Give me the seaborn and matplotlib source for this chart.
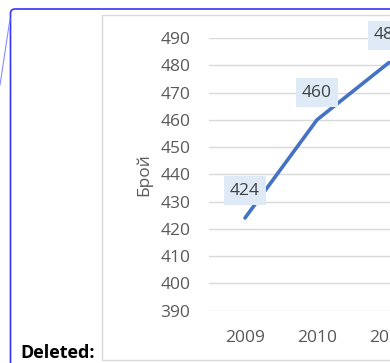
import matplotlib
matplotlib.use("Agg")
import matplotlib.pyplot as plt
from matplotlib.patches import Rectangle, FancyBboxPatch
from matplotlib.lines import Line2D
import seaborn as sns
import pandas as pd

years = ["2009", "2010", "2011"]
counts = [424, 460, 481]
y_ticks = [390, 400, 410, 420, 430, 440, 450, 460, 470, 480, 490]
y_title = "Брой"
note_text = "Deleted:"

W, H = 390, 363
DPI = 100
FS = 12.5

sns.set_theme(style="white")
plt.rcParams["font.family"] = ["Open Sans", "DejaVu Sans"]

fig = plt.figure(figsize=(W / DPI, H / DPI), dpi=DPI)
fig.patch.set_facecolor("white")


def fx(px):
    return px / W


def fy(py):
    return (H - py) / H


# page decorations: comment balloon frame, connector and chart border
fig.add_artist(Line2D([fx(10), fx(0)], [fy(19), fy(85)], color="#8C8CFF", lw=0.8))
fig.add_artist(FancyBboxPatch((fx(10.5), fy(380)), fx(420), fy(9) - fy(380),
                              boxstyle="round,pad=0,rounding_size=0.012",
                              fill=False, edgecolor="#3535F2", lw=1.2))
fig.add_artist(Rectangle((fx(101.5), fy(360)), fx(400), fy(14.5) - fy(360),
                         fill=False, edgecolor="#D9D9D9", lw=1.0))
fig.text(fx(20), fy(358), note_text, fontsize=13, fontweight="bold",
         color="black", ha="left", va="baseline")

# plot area
left, right_px = 209, 209 + 72 * len(years)
ax = fig.add_axes([fx(left), fy(310.7), fx(right_px - left), fy(38) - fy(310.7)])
ax.set_facecolor("none")

df = pd.DataFrame({"year": years, "count": counts})
sns.lineplot(data=df, x="year", y="count", ax=ax, color="#4472C4", lw=2.6,
             solid_capstyle="round", sort=False)

ax.set_xlim(-0.5, len(years) - 0.5)
ax.set_ylim(y_ticks[0], y_ticks[-1])
ax.set_yticks(y_ticks)
ax.grid(axis="y", color="#D9D9D9", lw=1.0)
ax.grid(axis="x", visible=False)
for s in ax.spines.values():
    s.set_visible(False)
ax.tick_params(axis="both", length=0, labelsize=FS, labelcolor="#595959")
ax.tick_params(axis="y", pad=13.5)
ax.tick_params(axis="x", pad=14)
ax.set_xlabel("")
ax.set_ylabel(y_title, fontsize=FS, color="#595959")
ax.yaxis.set_label_coords((152 - left) / (right_px - left), 0.5)

for i, v in enumerate(counts):
    ax.annotate(f"{v}", xy=(i, v), xytext=(0, 19.5), textcoords="offset points",
                ha="center", va="center", fontsize=FS, color="#404040",
                annotation_clip=False,
                bbox=dict(boxstyle="square,pad=0.37", fc="#DEEBF7", ec="none"))

fig.savefig("out.png", dpi=DPI)
